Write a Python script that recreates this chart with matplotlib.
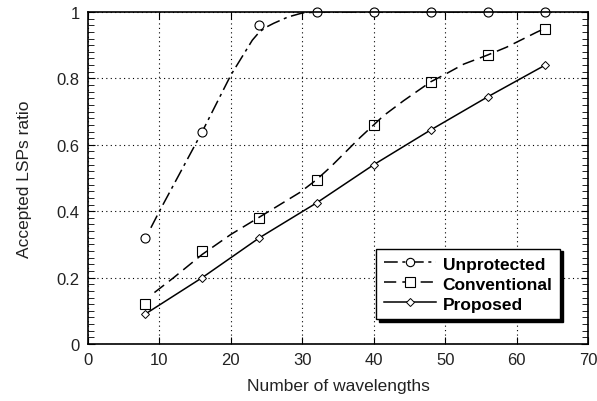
import matplotlib
matplotlib.use("Agg")
import matplotlib.pyplot as plt
from matplotlib.ticker import MultipleLocator

plt.rcParams['font.family'] = ['Liberation Sans', 'DejaVu Sans']

# measured points (markers)
wavelengths = [8, 16, 24, 32, 40, 48, 56, 64]
unprotected = [0.32, 0.64, 0.96, 1.0, 1.0, 1.0, 1.0, 1.0]
conventional = [0.12, 0.28, 0.38, 0.495, 0.66, 0.79, 0.87, 0.95]
proposed = [0.09, 0.20, 0.32, 0.425, 0.54, 0.645, 0.745, 0.84]

# fitted curves as drawn in the figure
unprot_fit_x = [8.8, 10, 12, 14, 16, 18, 20, 22, 23, 24, 25, 26, 28, 30, 32, 64]
unprot_fit_y = [0.35, 0.40, 0.48, 0.56, 0.64, 0.725, 0.81, 0.88, 0.915, 0.94, 0.955, 0.966, 0.985, 0.997, 1.0, 1.0]
conv_fit_x = [9.3, 12, 16, 20, 24.6, 29.7, 32, 33.9, 38.1, 41.4, 44.2, 48, 49.8, 52.6, 55.9, 58.6, 62.8, 64]
conv_fit_y = [0.155, 0.20, 0.27, 0.33, 0.39, 0.457, 0.495, 0.532, 0.622, 0.688, 0.733, 0.79, 0.81, 0.843, 0.87, 0.894, 0.939, 0.951]

fig = plt.figure(figsize=(5.97, 4.02), dpi=100)
ax = fig.add_axes([88/597, 1-345/402, 500/597, 332/402])

ax.plot(unprot_fit_x, unprot_fit_y, color='black', lw=1.1, dashes=(9, 3, 2, 3))
ax.plot(wavelengths, unprotected, ls='none', marker='o', ms=6.5, mfc='white', mec='black', mew=0.8, clip_on=False)
ax.plot(conv_fit_x, conv_fit_y, color='black', lw=1.1, dashes=(8, 4))
ax.plot(wavelengths, conventional, ls='none', marker='s', ms=6.5, mfc='none', mec='black', mew=0.8, clip_on=False)
ax.plot(wavelengths, proposed, color='black', lw=1.1, marker='D', ms=4.5, mfc='white', mec='black', mew=0.7, clip_on=False)

# legend proxies
h1, = ax.plot([], [], color='black', lw=1.1, dashes=(9, 3, 2, 3), marker='o', ms=6, mfc='white', mec='black', mew=0.8)
h2, = ax.plot([], [], color='black', lw=1.1, dashes=(8, 4), marker='s', ms=6.5, mfc='white', mec='black', mew=0.8)
h3, = ax.plot([], [], color='black', lw=1.1, marker='D', ms=4.5, mfc='white', mec='black', mew=0.7)
leg = ax.legend([h1, h2, h3], ['Unprotected', 'Conventional', 'Proposed'],
                loc='lower right', bbox_to_anchor=(0.962, 0.048),
                prop={'weight': 'bold', 'size': 12.5}, frameon=True, fancybox=False,
                shadow={'color': 'black', 'alpha': 1}, edgecolor='black', framealpha=1,
                handlelength=3.0, handletextpad=0.4, labelspacing=0.28, borderpad=0.45)
leg.get_frame().set_linewidth(1.0)

ax.set_xlim(0, 70)
ax.set_ylim(0, 1)
ax.xaxis.set_major_locator(MultipleLocator(10))
ax.yaxis.set_minor_locator(MultipleLocator(0.02))
ax.set_yticks([0, 0.2, 0.4, 0.6, 0.8, 1])
ax.set_yticklabels(['0', '0.2', '0.4', '0.6', '0.8', '1'])
ax.tick_params(which='both', direction='in', top=True, right=True, labelsize=12, color='black', labelcolor='#222222')
ax.tick_params(which='major', length=5, pad=6)
ax.tick_params(which='minor', length=4)
ax.grid(True, which='major', ls=(0, (1, 3)), color='black', lw=0.8)
for s in ax.spines.values():
    s.set_linewidth(1.2)

ax.set_xlabel('Number of wavelengths', fontsize=12.5, labelpad=8, color='#222222')
ax.set_ylabel('Accepted LSPs ratio', fontsize=12.5, labelpad=18, color='#222222')

fig.savefig('out.png', dpi=100)
